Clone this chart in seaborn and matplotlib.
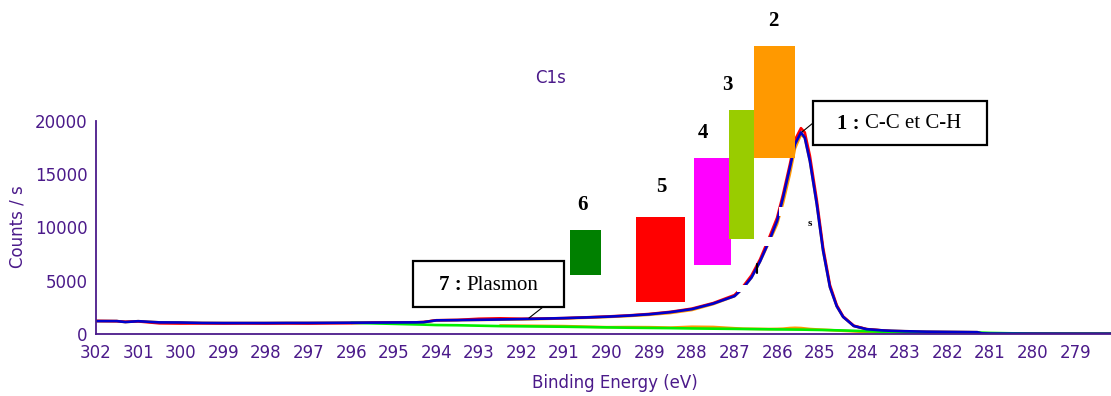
import numpy as np
import pandas as pd
import matplotlib
matplotlib.use("Agg")
import matplotlib.pyplot as plt
import seaborn as sns
from matplotlib.patches import Rectangle

# ---------------- data ----------------
energy = [302.0, 301.5, 301.3, 301.0, 300.5, 300.0, 299.5, 299.0, 298.5, 298.0,
          297.5, 297.0, 296.5, 296.0, 295.5, 295.0, 294.5, 294.3, 294.0, 293.5,
          293.0, 292.5, 292.0, 291.5, 291.0, 290.5, 290.0, 289.5, 289.0, 288.5,
          288.0, 287.5, 287.0, 286.8, 286.6, 286.4, 286.2, 286.0, 285.86, 285.7,
          285.58, 285.44, 285.35, 285.23, 285.07, 284.92, 284.76, 284.6, 284.45, 284.2,
          283.9, 283.5, 283.0, 282.5, 282.0, 281.5, 281.3, 281.2, 281.0, 280.0,
          279.0, 278.1]

envelope = [1210, 1210, 1120, 1200, 1090, 1080, 1040, 1030, 1030, 1030,
            1040, 1040, 1050, 1060, 1070, 1080, 1090, 1110, 1280, 1300,
            1330, 1360, 1400, 1440, 1490, 1550, 1620, 1720, 1850, 2050,
            2330, 2850, 3550, 4300, 5300, 6800, 8600, 10600, 12800, 15600,
            17800, 18900, 18400, 16200, 12200, 7800, 4400, 2600, 1600, 750,
            450, 330, 260, 220, 200, 180, 170, 60, 40, 30,
            25, 25]

measured = [1230, 1200, 1150, 1180, 1000, 980, 990, 980, 990, 980,
            990, 980, 1000, 1010, 1070, 1080, 1090, 1120, 1290, 1320,
            1430, 1470, 1430, 1450, 1490, 1560, 1640, 1740, 1880, 2080,
            2380, 2900, 3650, 4450, 5500, 7000, 8900, 10900, 13100, 15900,
            18200, 19300, 18900, 16700, 12600, 8100, 4600, 2700, 1650, 780,
            460, 320, 120, 110, 100, 100, 100, 50, 30, 25,
            20, 20]

fit_sum = [1210, 1210, 1120, 1200, 1090, 1080, 1040, 1030, 1030, 1030,
           1040, 1040, 1050, 1060, 1070, 1080, 1090, 1110, 1280, 1300,
           1320, 1340, 1370, 1410, 1460, 1520, 1590, 1680, 1800, 1970,
           2250, 2800, 3550, 4300, 5300, 6800, 8500, 10300, 12300, 15000,
           17400, 18700, 18400, 16200, 12200, 7800, 4400, 2600, 1600, 750,
           450, 330, 260, 220, 200, 180, 170, 60, 40, 30,
           25, 25]

components = [np.nan] * 21 + [
           800, 780, 760, 740, 690, 640, 650, 640, 600, 680,
           660, 540, 500, 490, 480, 470, 480, 500, 560, 580,
           560, 520, 470, 430, 400, 370, 330, 300, 250, 180,
           150, 140, 130, 120, 100, 30, 25, 25, 20, 20,
           20]

background = [np.nan] * 13 + [
              1050, 1000, 950, 900, 880, 840, 820,
              780, 740, 720, 700, 680, 650, 620, 590, 570, 550,
              520, 500, 480, 470, 460, 450, 440, 430, 425, 420,
              415, 410, 405, 395, 385, 375, 360, 345, 330, 300,
              260, 210, 170, 160, 150, 145, 140, 130, 100, 30,
              25, 25]

x_ticks = list(range(302, 278, -1))
y_ticks = [0, 5000, 10000, 15000, 20000]

# ---------------- style ----------------
PURPLE = "#4B1A8A"
sns.set_theme(style="white")
plt.rcParams["font.family"] = ["DejaVu Sans"]
SERIF = ["Liberation Serif", "DejaVu Serif"]

W, H = 1111, 396
fig = plt.figure(figsize=(W / 100, H / 100), dpi=100)
x0, x1 = 95.5, 1111.0
y_bot, y_top = 334.0, 120.7
ax = fig.add_axes([x0 / W, (H - y_bot) / H, (x1 - x0) / W, (y_bot - y_top) / H])

xmax_e = 302.0
px_per_ev = 42.6
xmin_e = xmax_e - (x1 - x0) / px_per_ev

df = pd.DataFrame({"energy": energy, "measured": measured, "envelope": envelope,
                   "fit_sum": fit_sum, "components": components,
                   "background": background})

lw = 1.9
sns.lineplot(data=df, x="energy", y="fit_sum", color="#FF9900", lw=lw, ax=ax,
             sort=False, estimator=None, zorder=2)
sns.lineplot(data=df, x="energy", y="components", color="#FF9900", lw=lw, ax=ax,
             sort=False, estimator=None, zorder=2)
sns.lineplot(data=df, x="energy", y="measured", color="#FF0000", lw=lw, ax=ax,
             sort=False, estimator=None, zorder=2.2)
sns.lineplot(data=df, x="energy", y="envelope", color="#0000CC", lw=lw, ax=ax,
             sort=False, estimator=None, zorder=2.4)
sns.lineplot(data=df, x="energy", y="background", color="#00EE00", lw=lw, ax=ax,
             sort=False, estimator=None, zorder=2.3)

ax.set_xlim(xmax_e, xmin_e)
ax.set_ylim(0, 20000)
ax.set_xticks(x_ticks)
ax.set_xticks(np.arange(302, 278, -0.5), minor=True)
ax.set_yticks(y_ticks)
ax.set_yticks([2500, 7500, 12500, 17500], minor=True)
ax.set_xlabel("")
ax.set_ylabel("")
for s in ["top", "right"]:
    ax.spines[s].set_visible(False)
for s in ["left", "bottom"]:
    ax.spines[s].set_color(PURPLE)
    ax.spines[s].set_linewidth(1.3)
ax.tick_params(axis="both", which="both", direction="inout", length=7,
               width=1.1, color=PURPLE, labelcolor=PURPLE, labelsize=12, pad=2)
ax.tick_params(axis="x", which="major", pad=4)
ax.patch.set_alpha(0)

fig.text(17 / W, 1 - 227 / H, "Counts / s", rotation=90, ha="center", va="center",
         color=PURPLE, fontsize=12)
fig.text(615 / W, 1 - 383 / H, "Binding Energy (eV)", ha="center", va="center",
         color=PURPLE, fontsize=12)
fig.text(551 / W, 1 - 78 / H, "C1s", ha="center", va="center",
         color=PURPLE, fontsize=12)

# ---------------- annotation boxes (pixel layout helper) ----------------
def fx(px):
    return px / W

def fy(py):
    return 1 - py / H

def box(px0, py0, px1, py1, fc, ec="none", lw=0, z=5):
    fig.patches.append(Rectangle((fx(px0), fy(py1)), (px1 - px0) / W, (py1 - py0) / H,
                                 transform=fig.transFigure, facecolor=fc,
                                 edgecolor=ec, linewidth=lw, zorder=z))

# white masks left over from hidden labels in the original figure
for a, b, c, d in [(737, 285, 747, 292), (764, 237, 777, 246), (779, 207, 785, 216)]:
    box(a, b, c, d, "white", z=4)
fig.lines.append(plt.Line2D([fx(757), fx(757)], [fy(264), fy(273)],
                            transform=fig.transFigure, color="black", lw=1.5, zorder=4.5))
fig.text(fx(810), fy(224), "s", ha="center", va="center", fontsize=8,
         fontweight="bold", family=SERIF, color="black", zorder=4.5)

comp_boxes = [  # label, colour, box pixels, label pixel
    ("6", "#008000", (570, 230, 601, 275), (583, 205)),
    ("5", "#FF0000", (636, 217, 685, 302), (661, 187)),
    ("4", "#FF00FF", (694, 158, 731, 265), (703, 133)),
    ("3", "#99CC00", (729, 110, 754, 239), (727, 85)),
    ("2", "#FF9900", (754, 46, 795, 158), (773, 21)),
]
for lab, col, (a, b, c, d), (tx, ty) in comp_boxes:
    box(a, b, c, d, col)
    fig.text(fx(tx), fy(ty), lab, ha="center", va="center", fontsize=15,
             fontweight="bold", family=SERIF, color="black")

# label 1
box(813, 101, 987, 145, "white", ec="black", lw=1.6, z=6)
fig.lines.append(plt.Line2D([fx(813), fx(802)], [fy(123), fy(132)],
                            transform=fig.transFigure, color="black", lw=0.8, zorder=6))
fig.text(fx(860), fy(124), "1 :", ha="right", va="center", fontsize=15,
         fontweight="bold", family=SERIF, color="black", zorder=7)
fig.text(fx(865), fy(124), "C-C et C-H", ha="left", va="center", fontsize=15,
         family=SERIF, color="black", zorder=7)

# label 7
box(413, 261, 564, 307, "white", ec="black", lw=1.6, z=6)
fig.lines.append(plt.Line2D([fx(543), fx(529)], [fy(307), fy(318)],
                            transform=fig.transFigure, color="black", lw=0.8, zorder=6))
fig.text(fx(462), fy(285), "7 :", ha="right", va="center", fontsize=15,
         fontweight="bold", family=SERIF, color="black", zorder=7)
fig.text(fx(466), fy(285), "Plasmon", ha="left", va="center", fontsize=15,
         family=SERIF, color="black", zorder=7)

fig.savefig("out.png", dpi=100)
